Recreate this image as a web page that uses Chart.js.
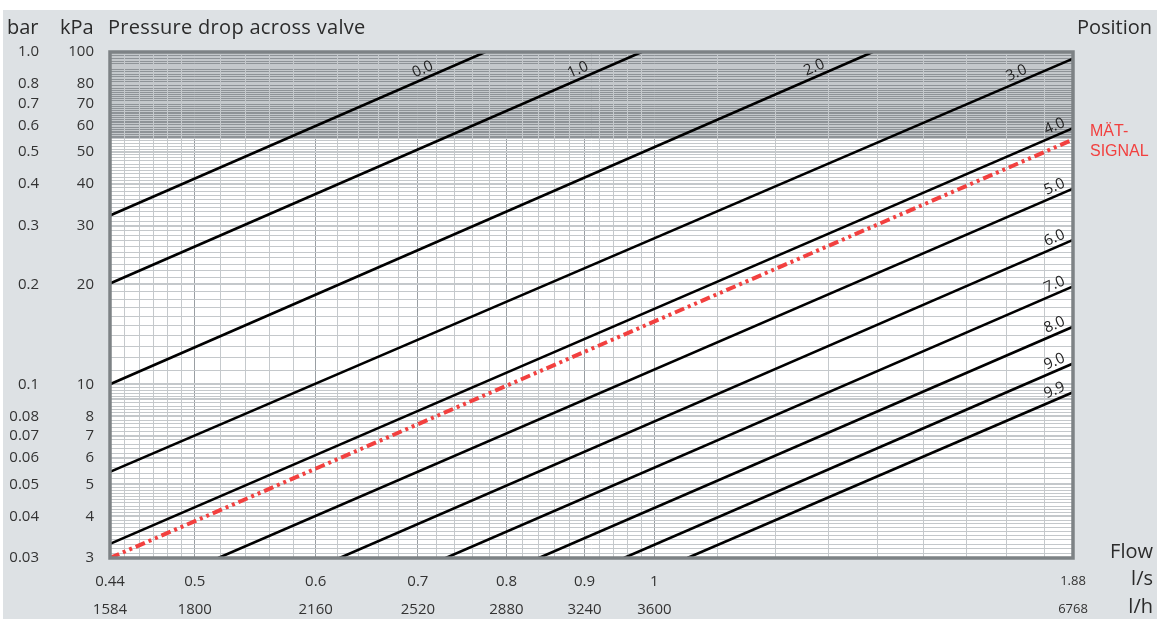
<!DOCTYPE html>
<html>
<head>
<meta charset="utf-8">
<title>Pressure drop across valve</title>
<script src="https://cdn.jsdelivr.net/npm/chart.js@4.4.1/dist/chart.umd.min.js"></script>
<style>
    html, body { margin:0; padding:0; background:#fff; }
    #wrap {
        position:relative; width:1157px; height:619px; overflow:hidden;
        font-family:"Open Sans", sans-serif; color:#2b2b2b;
    }
    #panel { position:absolute; left:3px; top:10px; right:0; bottom:0; background:#dde1e4; }
    #box { position:absolute; left:0; top:0; width:1157px; height:619px; }
    .t { position:absolute; white-space:nowrap; line-height:1; }
    .head { font-size:20px; }
    .signal {
        font-family:"Liberation Sans", Arial, sans-serif; font-size:16px;
        line-height:20px; color:#f2403f;
    }
</style>
</head>
<body>
<div id="wrap">
    <div id="panel"></div>
    <div id="box"><canvas id="valveChart"></canvas></div>

    <div class="t head" style="left:7px;top:17px">bar</div>
    <div class="t head" style="left:60px;top:17px">kPa</div>
    <div class="t head" style="left:108px;top:17px;letter-spacing:0.3px">Pressure drop across valve</div>
    <div class="t head" style="right:5px;top:17px">Position</div>
    <div class="t head" style="right:4px;top:541px">Flow</div>
    <div class="t head" style="right:4px;top:568px">l/s</div>
    <div class="t head" style="right:4px;top:596px">l/h</div>
    <div class="t signal" style="left:1090px;top:121px">MÄT-<br>SIGNAL</div>
</div>

<script>
// valve positions, one straight line each on the log-log grid
const positions = ["0.0", "1.0", "2.0", "3.0", "4.0", "5.0", "6.0", "7.0", "8.0", "9.0", "9.9"]

// where each line enters and leaves the grid: flow (l/s) and pressure drop (kPa)
const flowIn  = [0.44, 0.44, 0.44, 0.44, 0.44, 0.518, 0.622, 0.73, 0.84, 0.955, 1.051]
const kpaIn   = [32.2, 20.1, 10.0, 5.45, 3.31, 3, 3, 3, 3, 3, 3]
const flowOut = [0.775, 0.981, 1.39, 1.88, 1.88, 1.88, 1.88, 1.88, 1.88, 1.88, 1.88]
const kpaOut  = [100, 100, 100, 95.5, 59, 38.8, 27.2, 19.7, 14.9, 11.55, 9.46]

// measuring signal line
const signalFlow = [0.44, 1.88]
const signalKpa  = [3, 54.5]

// flow axis labels, l/s and l/h
const flowTicks = [0.44, 0.5, 0.6, 0.7, 0.8, 0.9, 1, 1.88]
const flowLs    = ["0.44", "0.5", "0.6", "0.7", "0.8", "0.9", "1", "1.88"]
const flowLh    = ["1584", "1800", "2160", "2520", "2880", "3240", "3600", "6768"]

// pressure axis labels, kPa and bar
const kpaTicks  = [3, 4, 5, 6, 7, 8, 10, 20, 30, 40, 50, 60, 70, 80, 100]
const barLabels = ["0.03", "0.04", "0.05", "0.06", "0.07", "0.08", "0.1", "0.2", "0.3", "0.4", "0.5", "0.6", "0.7", "0.8", "1.0"]

// pressure above which the grid is shaded
const shadeFrom = 55


function steps(from, to, step){
    const out = []
    const n = Math.round((to - from) / step)
    for (let i = 0; i <= n; i++) out.push(+(from + i * step).toFixed(3))
    return out
}

const flowGrid = [
    ...steps(0.44, 0.5, 0.01),
    ...steps(0.52, 1, 0.02),
    ...steps(1.1, 1.8, 0.1),
    1.88
]

const kpaGrid = [
    ...steps(3, 5, 0.1),
    ...steps(5.2, 10, 0.2),
    ...steps(11, 100, 1)
]

function near(a, b){
    return Math.abs(a - b) < 1e-6
}

function isMajorFlow(v){
    return v >= 0.5 && v <= 1 && near(v * 10, Math.round(v * 10))
}

function isMajorKpa(v){
    return near(v, Math.round(v)) && (v < 10 || Math.round(v) % 10 === 0)
}

// px back from the upper end of each line where its name sits
const labelBack = [59, 60, 55, 53, 15, 15, 15, 15, 15, 15, 15]

const plotBackground = {
    id: "plotBackground",
    beforeDraw(chart){
        const { ctx, chartArea: a, scales } = chart
        ctx.save()
        ctx.fillStyle = "#ffffff"
        ctx.fillRect(a.left, a.top, a.right - a.left, a.bottom - a.top)
        const ys = scales.y.getPixelForValue(shadeFrom)
        ctx.fillStyle = "#8e9397"
        ctx.fillRect(a.left, a.top, a.right - a.left, ys - a.top)
        ctx.restore()
    }
}

const frameAndNames = {
    id: "frameAndNames",
    afterDraw(chart){
        const { ctx, chartArea: a } = chart
        ctx.save()

        ctx.strokeStyle = "#7d8285"
        ctx.lineWidth = 3.5
        ctx.strokeRect(a.left, a.top, a.right - a.left, a.bottom - a.top)

        ctx.font = "15px 'Open Sans', sans-serif"
        ctx.fillStyle = "#222"
        ctx.textAlign = "center"
        ctx.textBaseline = "middle"

        positions.forEach((name, i) => {
            const pts = chart.getDatasetMeta(i).data
            const p0 = pts[0]
            const p1 = pts[1]
            const m = (p1.y - p0.y) / (p1.x - p0.x)
            const x = p1.x - labelBack[i]
            const y = p1.y - m * labelBack[i]
            const ang = Math.atan(m)
            ctx.save()
            ctx.translate(x - Math.sin(-ang) * 9, y - Math.cos(ang) * 9)
            ctx.rotate(ang)
            ctx.fillText(name, 0, 0)
            ctx.restore()
        })

        ctx.restore()
    }
}

function positionLine(i){
    return {
        label: positions[i],
        data: [
            { x: flowIn[i], y: kpaIn[i] },
            { x: flowOut[i], y: kpaOut[i] }
        ],
        borderColor: "#000",
        borderWidth: 2.6,
        pointRadius: 0
    }
}

function createValveChart(){

    Chart.defaults.font.family = "'Open Sans', sans-serif"
    Chart.defaults.color = "#333"

    const ctx =
    document
    .getElementById(
        "valveChart"
    )

    const datasets = positions.map((p, i) => positionLine(i))

    datasets.push({
        label: "MÄT-SIGNAL",
        data: signalFlow.map((f, i) => ({ x: f, y: signalKpa[i] })),
        borderColor: "#f2403f",
        borderWidth: 4,
        borderDash: [10, 4, 3, 4, 3, 4],
        pointRadius: 0
    })

    new Chart(
        ctx,
        {
            type: "line",

            data: { datasets: datasets },

            options: {
                responsive: true,
                maintainAspectRatio: false,
                animation: false,
                events: [],

                layout: {
                    padding: { left: 0, right: 84, top: 52, bottom: 0 }
                },

                plugins: {
                    legend: { display: false },
                    tooltip: { enabled: false }
                },

                scales: {

                    x: {
                        type: "logarithmic",
                        position: "bottom",
                        weight: 0,
                        min: 0.44,
                        max: 1.88,
                        afterBuildTicks: s => { s.ticks = flowGrid.map(v => ({ value: v })) },
                        afterFit: s => { s.height = 33 },
                        border: { display: false },
                        grid: {
                            drawTicks: false,
                            color: c => isMajorFlow(c.tick.value) ? "#9a9fa3" : "#c5c9cc",
                            lineWidth: 1
                        },
                        ticks: {
                            autoSkip: false,
                            maxRotation: 0,
                            padding: 15,
                            font: c => ({ size: c.tick && near(c.tick.value, 1.88) ? 13 : 15 }),
                            callback: v => {
                                const k = flowTicks.findIndex(t => near(t, v))
                                return k < 0 ? "" : flowLs[k]
                            }
                        }
                    },

                    x2: {
                        type: "logarithmic",
                        position: "bottom",
                        weight: 1,
                        min: 0.44,
                        max: 1.88,
                        afterBuildTicks: s => { s.ticks = flowTicks.map(v => ({ value: v })) },
                        afterFit: s => { s.height = 28 },
                        border: { display: false },
                        grid: { display: false, drawTicks: false },
                        ticks: {
                            autoSkip: false,
                            maxRotation: 0,
                            padding: 10,
                            font: c => ({ size: c.index === flowTicks.length - 1 ? 13 : 15 }),
                            callback: (v, i) => flowLh[i]
                        }
                    },

                    y: {
                        type: "logarithmic",
                        position: "left",
                        weight: 0,
                        min: 3,
                        max: 100,
                        afterBuildTicks: s => { s.ticks = kpaGrid.map(v => ({ value: v })) },
                        afterFit: s => { s.width = 64 },
                        border: { display: false },
                        grid: {
                            drawTicks: false,
                            color: "#c4c8cb",
                            lineWidth: c => isMajorKpa(c.tick.value) ? 2 : 1
                        },
                        ticks: {
                            autoSkip: false,
                            padding: 16,
                            font: { size: 15 },
                            callback: v => {
                                const k = kpaTicks.findIndex(t => near(t, v))
                                return k < 0 ? "" : String(kpaTicks[k])
                            }
                        }
                    },

                    y2: {
                        type: "logarithmic",
                        position: "left",
                        weight: 1,
                        min: 3,
                        max: 100,
                        afterBuildTicks: s => { s.ticks = kpaTicks.map(v => ({ value: v })) },
                        afterFit: s => { s.width = 46 },
                        border: { display: false },
                        grid: { display: false, drawTicks: false },
                        ticks: {
                            autoSkip: false,
                            padding: 7,
                            font: { size: 15 },
                            callback: (v, i) => barLabels[i]
                        }
                    }
                }
            },

            plugins: [plotBackground, frameAndNames]
        }
    )
}

createValveChart()
</script>
</body>
</html>
